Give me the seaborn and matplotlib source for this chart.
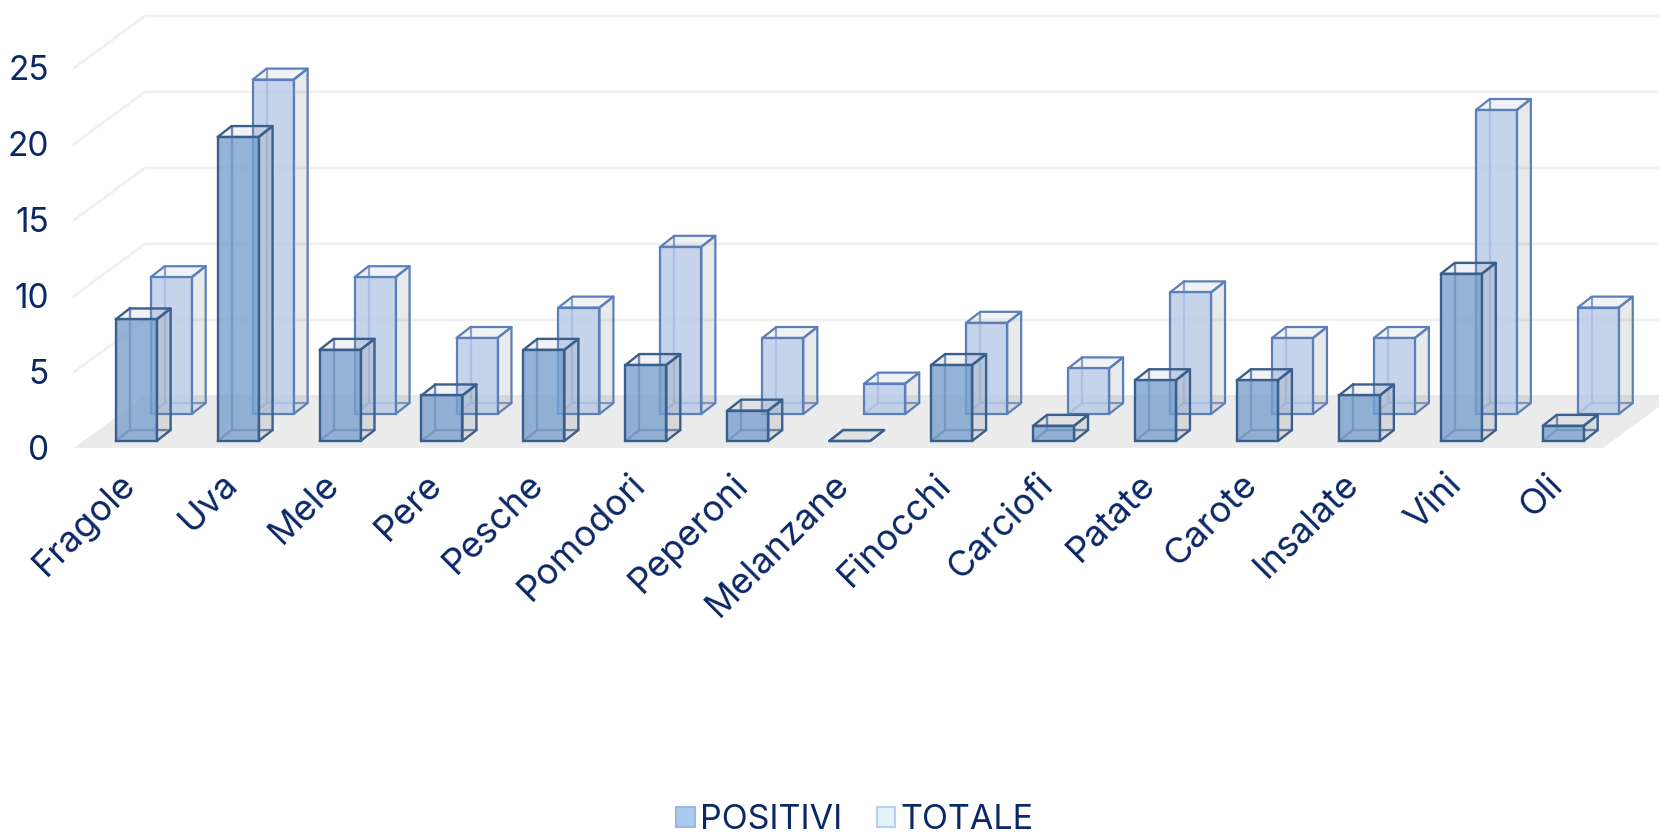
import matplotlib
matplotlib.use("Agg")
import matplotlib.pyplot as plt
from matplotlib.colors import to_rgba
from matplotlib.patches import Patch, Polygon
from matplotlib.transforms import ScaledTranslation
import pandas as pd
import seaborn as sns

categories = ["Fragole", "Uva", "Mele", "Pere", "Pesche", "Pomodori", "Peperoni", "Melanzane",
              "Finocchi", "Carciofi", "Patate", "Carote", "Insalate", "Vini", "Oli"]
positivi = [8, 20, 6, 3, 6, 5, 2, 0, 5, 1, 4, 4, 3, 11, 1]
totale = [9, 22, 9, 5, 7, 11, 5, 2, 6, 3, 8, 5, 5, 20, 7]
y_ticks = [0, 5, 10, 15, 20, 25]

INK = "#0a2766"
W, H = 1659, 835
sns.set_theme(style="white")
plt.rcParams["font.family"] = ["Inter", "DejaVu Sans"]

fig = plt.figure(figsize=(W / 100, H / 100), dpi=100)
ax = fig.add_axes([74 / W, 1 - 448 / H, 1529 / W, 380 / H])

# Oblique projection offsets, in data units
WALL_DX, WALL_DY = 0.697, 3.43
BAR_DX, BAR_DY = 0.137, 0.72
BAR_WIDTH = 0.402


def draw_series(values, x_shift, base, face, edge, lw, z):
    """Front faces come from seaborn; side, top and back are extruded from each bar."""
    frame = pd.DataFrame({"pos": [i + x_shift for i in range(len(values))], "value": values})
    before = len(ax.patches)
    sns.barplot(data=frame, x="pos", y="value", native_scale=True, width=BAR_WIDTH,
                bottom=base, color=face, saturation=1, ax=ax)
    for bar in ax.patches[before:]:
        x0, y0 = bar.get_x(), bar.get_y()
        w, h = bar.get_width(), bar.get_height()
        x1, y1 = x0 + w, y0 + h
        dx, dy = BAR_DX, BAR_DY
        common = dict(edgecolor=edge, linewidth=lw, joinstyle="round", clip_on=False)
        ax.plot([x0, x0 + dx, x1 + dx], [y0, y0 + dy, y0 + dy], color=edge, lw=lw, alpha=0.75,
                zorder=z, clip_on=False)
        ax.plot([x0 + dx, x0 + dx], [y0 + dy, y1 + dy], color=edge, lw=lw, alpha=0.75,
                zorder=z, clip_on=False)
        ax.add_patch(Polygon([(x1, y0), (x1 + dx, y0 + dy), (x1 + dx, y1 + dy), (x1, y1)],
                             facecolor=to_rgba("#7f8590", 0.18), zorder=z + 0.1, **common))
        ax.add_patch(Polygon([(x0, y1), (x0 + dx, y1 + dy), (x1 + dx, y1 + dy), (x1, y1)],
                             facecolor=to_rgba("#a8b0c4", 0.16), zorder=z + 0.1, **common))
        bar.set_facecolor(to_rgba(face, 0.8))
        bar.set_edgecolor(edge)
        bar.set_linewidth(lw)
        bar.set_zorder(z + 0.2)
        bar.set_clip_on(False)


# Floor plane and the gridlines that run up the side and back walls
floor = Polygon([(-0.5, 0), (14.5, 0), (14.5 + WALL_DX, WALL_DY), (-0.5 + WALL_DX, WALL_DY)],
                facecolor="#ebebeb", edgecolor="none", zorder=0.5, clip_on=False)
ax.add_patch(floor)
for v in y_ticks[1:]:
    ax.plot([-0.5, -0.5 + WALL_DX, 14.5 + WALL_DX], [v, v + WALL_DY, v + WALL_DY],
            color="#f0f0f0", lw=2, zorder=0.6, clip_on=False)
ax.plot([-0.5 + WALL_DX, 14.5 + WALL_DX], [WALL_DY, WALL_DY], color="#e6e6e6", lw=1.2,
        zorder=0.6, clip_on=False)

draw_series(totale, 0.454, 2.24, "#b7c9e7", "#5b7fb9", 1.6, 2)
draw_series(positivi, 0.11, 0.46, "#79a0cc", "#3a5f8c", 1.7, 3)

ax.set_xlim(-0.5, 14.5)
ax.set_ylim(0, 25)
ax.set_xlabel("")
ax.set_ylabel("")
sns.despine(ax=ax, left=True, bottom=True, top=True, right=True)
ax.patch.set_alpha(0)

ax.set_yticks(y_ticks)
ax.set_yticklabels([str(v) for v in y_ticks], fontsize=24, color=INK)
ax.tick_params(axis="y", length=0, pad=18)
ax.set_xticks(range(len(categories)))
ax.set_xticklabels(categories, rotation=45, ha="right", rotation_mode="anchor",
                   fontsize=26, color=INK)
ax.tick_params(axis="x", length=0, pad=14)
label_shift = ScaledTranslation(-6 / 100, 0, fig.dpi_scale_trans)
for label in ax.get_xticklabels():
    label.set_transform(label.get_transform() + label_shift)

handles = [Patch(facecolor="#a9cbf0", edgecolor="#9db8d8", linewidth=1.5),
           Patch(facecolor="#e3f3fc", edgecolor="#b6d0f5", linewidth=1.5)]
fig.legend(handles, ["POSITIVI", "TOTALE"], ncol=2, frameon=False, loc="center",
           bbox_to_anchor=(855 / W, 1 - 820 / H), fontsize=24.5, labelcolor=INK,
           handlelength=0.55, handleheight=0.55, handletextpad=0.15, columnspacing=1.0)

fig.savefig("out.png", dpi=100, facecolor="white")
